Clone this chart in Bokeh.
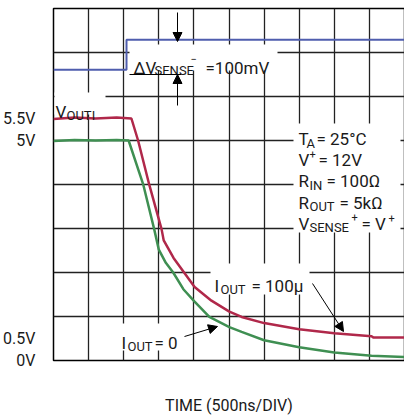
from bokeh.plotting import figure
from bokeh.models import Label, Arrow, NormalHead, BoxAnnotation, FixedTicker
from bokeh.embed import file_html
from bokeh.resources import INLINE

# ---- data (time in microseconds, 500 ns/div; volts) ----
t_red = [0.0, 0.3, 0.6, 0.9, 1.11, 1.205, 1.365, 1.54, 1.57, 1.71, 1.86, 2.01, 2.25, 2.505, 2.68, 3.0, 3.5, 4.0, 4.53, 4.56, 5.0]
v_red = [5.49, 5.52, 5.50, 5.52, 5.50, 5.00, 3.99, 2.98, 2.73, 2.33, 2.00, 1.67, 1.36, 1.11, 0.99, 0.85, 0.71, 0.62, 0.55, 0.52, 0.52]

t_green = [0.0, 0.3, 0.6, 0.9, 1.07, 1.28, 1.435, 1.5, 1.6, 1.705, 1.85, 2.01, 2.22, 2.505, 2.68, 3.0, 3.5, 4.0, 4.53, 5.0]
v_green = [4.99, 5.01, 5.00, 5.01, 5.00, 3.99, 2.98, 2.52, 2.22, 2.00, 1.62, 1.34, 0.99, 0.76, 0.65, 0.46, 0.30, 0.18, 0.11, 0.08]

t_blue = [0.0, 1.04, 1.04, 5.0]
v_blue = [6.61, 6.61, 7.29, 7.29]

ytick_values = [0, 0.5, 5, 5.5]
ytick_labels = ["0V", "0.5V", "5V", "5.5V"]
xgrid_values = [0.5 * i for i in range(11)]
ygrid_values = list(range(9))

RED = "#b0284a"
GREEN = "#3f8f52"
BLUE = "#4f5eae"
INK = "#1a1a1a"
FONT = "Roboto"

p = figure(frame_width=351, frame_height=352, x_range=(0, 5), y_range=(0, 8),
           output_backend="svg", toolbar_location=None,
           min_border_left=44, min_border_right=1, min_border_top=8, min_border_bottom=48)

p.outline_line_color = "black"
p.outline_line_width = 1.5
p.background_fill_color = "white"
p.border_fill_color = "white"

p.xgrid.ticker = FixedTicker(ticks=xgrid_values)
p.ygrid.ticker = FixedTicker(ticks=ygrid_values)
for g in (p.xgrid, p.ygrid):
    g.grid_line_color = "#222222"
    g.grid_line_width = 1.3
    g.grid_line_alpha = 1.0

# axes
p.yaxis.ticker = FixedTicker(ticks=ytick_values)
p.yaxis.major_label_overrides = {v: s for v, s in zip(ytick_values, ytick_labels)}
p.yaxis.major_tick_line_color = None
p.yaxis.minor_tick_line_color = None
p.yaxis.axis_line_color = None
p.yaxis.major_label_standoff = 12
p.yaxis.major_label_text_font = FONT
p.yaxis.major_label_text_font_size = "16px"
p.yaxis.major_label_text_color = INK

p.xaxis.ticker = FixedTicker(ticks=[])
p.xaxis.major_tick_line_color = None
p.xaxis.minor_tick_line_color = None
p.xaxis.axis_line_color = None
p.xaxis.major_label_text_font_size = "0px"
p.xaxis.axis_label = "TIME (500ns/DIV)"
p.xaxis.axis_label_text_font = FONT
p.xaxis.axis_label_text_font_size = "16px"
p.xaxis.axis_label_text_font_style = "normal"
p.xaxis.axis_label_text_color = INK
p.xaxis.axis_label_standoff = 35

# traces
p.line(t_blue, v_blue, line_color=BLUE, line_width=2)
p.line(t_red, v_red, line_color=RED, line_width=2.5)
p.line(t_green, v_green, line_color=GREEN, line_width=2.5)


# layout helpers: reference pixel positions -> data coordinates
def X(px):
    return (px - 52) / 351 * 5


def Y(py):
    return (360 - py) / 352 * 8


# white boxes behind the annotation texts
for l, r, t, b in [(128, 276, 44, 70), (53, 104, 92, 114), (292, 399, 123, 232),
                   (209, 308, 263, 294), (116, 183, 323, 350)]:
    p.add_layout(BoxAnnotation(left=X(l), right=X(r), top=Y(t), bottom=Y(b),
                               fill_color="white", fill_alpha=1.0, line_color=None))

M, S, P = 17, 13, 11
segments = [
    # delta V sense
    ("\u0394V", 132, 67, M), ("SENSE", 153, 70, S), ("\u2212", 189, 58, P), ("=100mV", 204, 67, M),
    # V_OUTI
    ("V", 54, 111, M), ("OUTI", 65, 115, S),
    # conditions
    ("T", 297, 138, M), ("A", 305, 143, S), ("= 25\u00b0C", 315, 138, M),
    ("V", 297, 159, M), ("+", 308, 153, P), ("= 12V", 317, 159, M),
    ("R", 297, 180, M), ("IN", 308, 185, S), ("= 100\u03a9", 325, 180, M),
    ("R", 297, 202, M), ("OUT", 308, 206, S), ("= 5k\u03a9", 338, 202, M),
    ("V", 297, 223, M), ("SENSE", 308, 227, S), ("+", 350, 216, P), ("= V", 360, 223, M), ("+", 387, 217, P),
    # I_OUT labels
    ("I", 213, 285, M), ("OUT", 219, 289, S), ("= 100\u00b5", 250, 285, M),
    ("I", 120, 342, M), ("OUT", 126, 346, S), ("= 0", 153, 342, M),
]
for txt, px, py, fs in segments:
    p.add_layout(Label(x=X(px), y=Y(py), text=txt, text_font=FONT, text_font_size=f"{fs}px",
                       text_color=INK, text_align="left", text_baseline="alphabetic"))

# arrows
for x0, y0, x1, y1 in [(176, 12, 176, 41), (176, 105, 176, 74), (183, 336, 216, 326), (311, 283, 342, 331)]:
    p.add_layout(Arrow(x_start=X(x0), y_start=Y(y0), x_end=X(x1), y_end=Y(y1), line_color="black",
                       line_width=1,
                       end=NormalHead(size=9, fill_color="black", line_color="black", line_width=1)))
# extension line of the lower sense level
p.add_layout(Arrow(x_start=X(128), y_start=Y(74), x_end=X(180), y_end=Y(74), line_color="black",
                   line_width=1, end=None))

open("out.html", "w").write(file_html(p, INLINE))
